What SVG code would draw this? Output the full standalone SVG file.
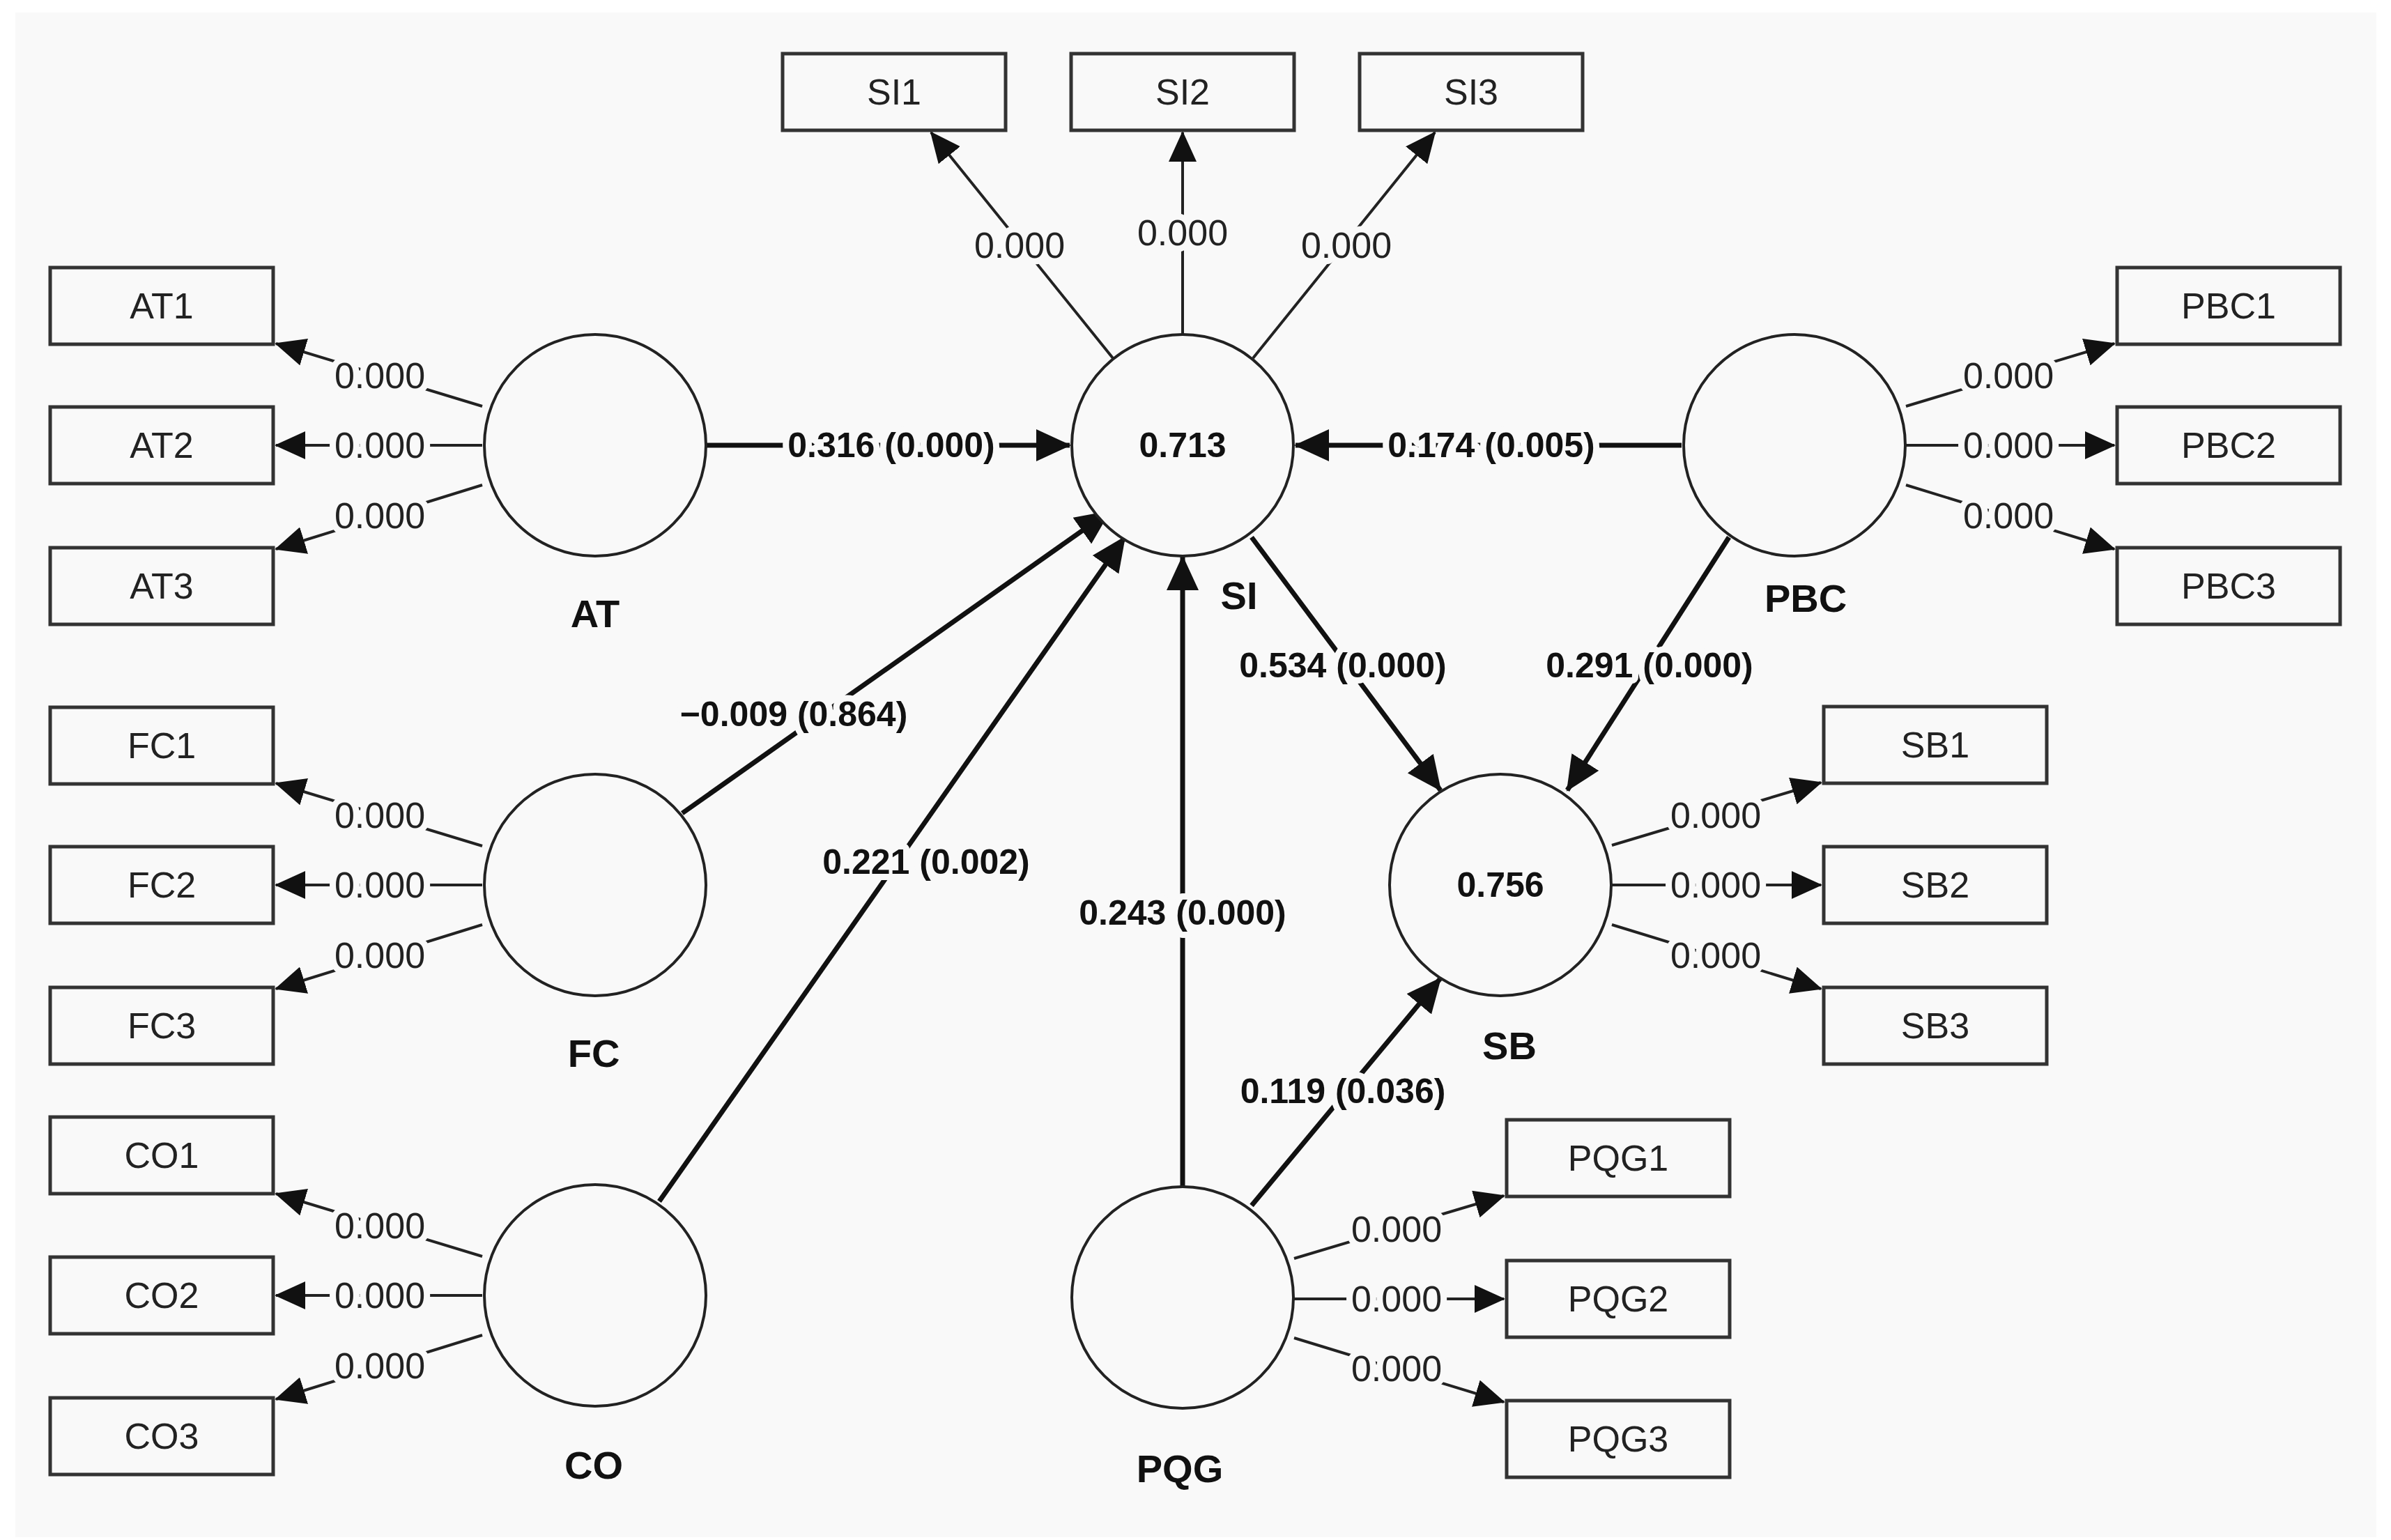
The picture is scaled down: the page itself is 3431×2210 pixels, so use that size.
<svg xmlns="http://www.w3.org/2000/svg" width="3431" height="2210" viewBox="0 0 3431 2210">
<style>
.bg{fill:#f9f9f9}
.box{fill:#f9f9f9;stroke:#333;stroke-width:5}
.circ{fill:#f9f9f9;stroke:#222;stroke-width:4}
.t{font-family:"Liberation Sans",Arial,sans-serif;font-size:52px;fill:#222;text-anchor:middle;dominant-baseline:central}
.b{font-family:"Liberation Sans",Arial,sans-serif;font-size:50px;font-weight:bold;fill:#111;text-anchor:middle;dominant-baseline:central}
.nl{font-size:56px}
.thin{stroke:#222;stroke-width:4;fill:none;marker-end:url(#a1)}
.thick{stroke:#111;stroke-width:7;fill:none;marker-end:url(#a2)}
.lab{paint-order:stroke;stroke:#f9f9f9;stroke-width:18px;stroke-linejoin:round}
</style>
<defs>
<marker id="a1" markerUnits="userSpaceOnUse" markerWidth="44" markerHeight="40" refX="42" refY="20" orient="auto"><path d="M0,0 L44,20 L0,40 Z" fill="#111"/></marker>
<marker id="a2" markerUnits="userSpaceOnUse" markerWidth="50" markerHeight="46" refX="48" refY="23" orient="auto"><path d="M0,0 L50,23 L0,46 Z" fill="#111"/></marker>
</defs>
<rect x="0" y="0" width="3431" height="2210" fill="#fff"/>
<rect class="bg" x="22" y="18" width="3388" height="2188"/>
<g id="connectors">
<line class="thin" x1="692" y1="583" x2="396" y2="493"/>
<line class="thin" x1="692" y1="639" x2="396" y2="639"/>
<line class="thin" x1="692" y1="696" x2="396" y2="788"/>
<line class="thin" x1="692" y1="1214" x2="396" y2="1124"/>
<line class="thin" x1="692" y1="1270" x2="396" y2="1270"/>
<line class="thin" x1="692" y1="1327" x2="396" y2="1419"/>
<line class="thin" x1="692" y1="1803" x2="396" y2="1713"/>
<line class="thin" x1="692" y1="1859" x2="396" y2="1859"/>
<line class="thin" x1="692" y1="1916" x2="396" y2="2008"/>
<line class="thin" x1="2735" y1="583" x2="3034" y2="493"/>
<line class="thin" x1="2735" y1="639" x2="3034" y2="639"/>
<line class="thin" x1="2735" y1="696" x2="3034" y2="788"/>
<line class="thin" x1="2313" y1="1213" x2="2613" y2="1123"/>
<line class="thin" x1="2313" y1="1270" x2="2613" y2="1270"/>
<line class="thin" x1="2313" y1="1327" x2="2613" y2="1419"/>
<line class="thin" x1="1857" y1="1806" x2="2158" y2="1716"/>
<line class="thin" x1="1857" y1="1864" x2="2158" y2="1864"/>
<line class="thin" x1="1857" y1="1920" x2="2158" y2="2012"/>
<line class="thin" x1="1597" y1="514" x2="1336" y2="190"/>
<line class="thin" x1="1697" y1="480" x2="1697" y2="190"/>
<line class="thin" x1="1798" y1="514" x2="2059" y2="190"/>
<line class="thick" x1="1014" y1="639" x2="1535" y2="639"/>
<line class="thick" x1="2413" y1="639" x2="1859" y2="639"/>
<line class="thick" x1="979" y1="1167" x2="1592" y2="734"/>
<line class="thick" x1="946" y1="1724" x2="1614" y2="771"/>
<line class="thick" x1="1697" y1="1702" x2="1697" y2="799"/>
<line class="thick" x1="1796" y1="771" x2="2067" y2="1134"/>
<line class="thick" x1="2481" y1="771" x2="2249" y2="1134"/>
<line class="thick" x1="1796" y1="1730" x2="2067" y2="1404"/>
<g class="t lab">
<text x="545" y="539">0.000</text><text x="545" y="639">0.000</text><text x="545" y="740">0.000</text>
<text x="545" y="1170">0.000</text><text x="545" y="1270">0.000</text><text x="545" y="1371">0.000</text>
<text x="545" y="1759">0.000</text><text x="545" y="1859">0.000</text><text x="545" y="1960">0.000</text>
<text x="2882" y="539">0.000</text><text x="2882" y="639">0.000</text><text x="2882" y="740">0.000</text>
<text x="2462" y="1170">0.000</text><text x="2462" y="1270">0.000</text><text x="2462" y="1371">0.000</text>
<text x="2004" y="1764">0.000</text><text x="2004" y="1864">0.000</text><text x="2004" y="1964">0.000</text>
<text x="1463" y="352">0.000</text><text x="1697" y="334">0.000</text><text x="1932" y="352">0.000</text>
</g>
<g class="b lab">
<text x="1279" y="639">0.316 (0.000)</text>
<text x="2140" y="639">0.174 (0.005)</text>
<text x="1139" y="1025">−0.009 (0.864)</text>
<text x="1329" y="1237">0.221 (0.002)</text>
<text x="1697" y="1310">0.243 (0.000)</text>
<text x="1927" y="955">0.534 (0.000)</text>
<text x="2367" y="955">0.291 (0.000)</text>
<text x="1927" y="1566">0.119 (0.036)</text>
</g>
</g>
<g id="AT"><circle class="circ" cx="854" cy="639" r="159"/><text class="b nl" x="854" y="880">AT</text></g>
<g id="FC"><circle class="circ" cx="854" cy="1270" r="159"/><text class="b nl" x="852" y="1511">FC</text></g>
<g id="CO"><circle class="circ" cx="854" cy="1859" r="159"/><text class="b nl" x="852" y="2102">CO</text></g>
<g id="SI"><circle class="circ" cx="1697" cy="639" r="159"/><text class="b" x="1697" y="639">0.713</text><text class="b nl" x="1778" y="854">SI</text></g>
<g id="PBC"><circle class="circ" cx="2575" cy="639" r="159"/><text class="b nl" x="2591" y="858">PBC</text></g>
<g id="SB"><circle class="circ" cx="2153" cy="1270" r="159"/><text class="b" x="2153" y="1270">0.756</text><text class="b nl" x="2166" y="1500">SB</text></g>
<g id="PQG"><circle class="circ" cx="1697" cy="1862" r="159"/><text class="b nl" x="1693" y="2107">PQG</text></g>
<g id="AT1"><rect class="box" x="72" y="384" width="320" height="110"/><text class="t" x="232" y="439">AT1</text></g>
<g id="AT2"><rect class="box" x="72" y="584" width="320" height="110"/><text class="t" x="232" y="639">AT2</text></g>
<g id="AT3"><rect class="box" x="72" y="786" width="320" height="110"/><text class="t" x="232" y="841">AT3</text></g>
<g id="FC1"><rect class="box" x="72" y="1015" width="320" height="110"/><text class="t" x="232" y="1070">FC1</text></g>
<g id="FC2"><rect class="box" x="72" y="1215" width="320" height="110"/><text class="t" x="232" y="1270">FC2</text></g>
<g id="FC3"><rect class="box" x="72" y="1417" width="320" height="110"/><text class="t" x="232" y="1472">FC3</text></g>
<g id="CO1"><rect class="box" x="72" y="1603" width="320" height="110"/><text class="t" x="232" y="1658">CO1</text></g>
<g id="CO2"><rect class="box" x="72" y="1804" width="320" height="110"/><text class="t" x="232" y="1859">CO2</text></g>
<g id="CO3"><rect class="box" x="72" y="2006" width="320" height="110"/><text class="t" x="232" y="2061">CO3</text></g>
<g id="SI1"><rect class="box" x="1123" y="77" width="320" height="110"/><text class="t" x="1283" y="132">SI1</text></g>
<g id="SI2"><rect class="box" x="1537" y="77" width="320" height="110"/><text class="t" x="1697" y="132">SI2</text></g>
<g id="SI3"><rect class="box" x="1951" y="77" width="320" height="110"/><text class="t" x="2111" y="132">SI3</text></g>
<g id="PBC1"><rect class="box" x="3038" y="384" width="320" height="110"/><text class="t" x="3198" y="439">PBC1</text></g>
<g id="PBC2"><rect class="box" x="3038" y="584" width="320" height="110"/><text class="t" x="3198" y="639">PBC2</text></g>
<g id="PBC3"><rect class="box" x="3038" y="786" width="320" height="110"/><text class="t" x="3198" y="841">PBC3</text></g>
<g id="SB1"><rect class="box" x="2617" y="1014" width="320" height="110"/><text class="t" x="2777" y="1069">SB1</text></g>
<g id="SB2"><rect class="box" x="2617" y="1215" width="320" height="110"/><text class="t" x="2777" y="1270">SB2</text></g>
<g id="SB3"><rect class="box" x="2617" y="1417" width="320" height="110"/><text class="t" x="2777" y="1472">SB3</text></g>
<g id="PQG1"><rect class="box" x="2162" y="1607" width="320" height="110"/><text class="t" x="2322" y="1662">PQG1</text></g>
<g id="PQG2"><rect class="box" x="2162" y="1809" width="320" height="110"/><text class="t" x="2322" y="1864">PQG2</text></g>
<g id="PQG3"><rect class="box" x="2162" y="2010" width="320" height="110"/><text class="t" x="2322" y="2065">PQG3</text></g>
</svg>
